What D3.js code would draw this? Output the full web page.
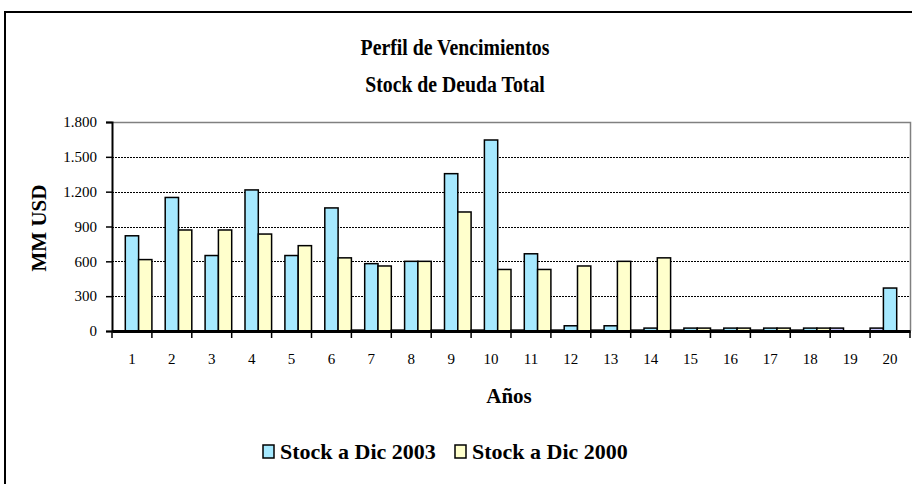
<!DOCTYPE html>
<meta charset="utf-8">
<style>

body {
  margin: 0;
  background: #fff;
}

text {
  font-family: "Liberation Serif", "Times New Roman", serif;
  fill: #000;
}

.grid line {
  stroke: #000;
  stroke-dasharray: 2,1;
}

.bars rect {
  stroke: #000;
  stroke-width: 1.5;
}

</style>
<svg width="912" height="484"></svg>
<script src="https://d3js.org/d3.v7.min.js"></script>
<script>

var years = d3.range(1, 21).map(String);

var stock2003 = [820, 1150, 650, 1215, 650, 1060, 580, 600, 1355, 1645, 665, 45, 45, 25, 25, 25, 25, 25, 0, 370];
var stock2000 = [615, 870, 870, 835, 735, 630, 560, 600, 1025, 530, 530, 560, 600, 630, 25, 25, 25, 25, 0, 0];
var otros = [0, 0, 0, 0, 0, 0, 8, 8, 8, 8, 8, 8, 8, 8, 8, 8, 8, 8, 25, 25];

var yTicks = [0, 300, 600, 900, 1200, 1500, 1800];

var series = [
  {name: "Otros", values: otros, color: "#CCCCFF", legend: false},
  {name: "Stock a Dic 2003", values: stock2003, color: "#A6E9FF", legend: true},
  {name: "Stock a Dic 2000", values: stock2000, color: "#FFFFCC", legend: true}
];

var svg = d3.select("svg");

var margin = {left: 112, right: 910, top: 122, bottom: 331};

// chart area frame (cut off at the right and bottom edges)
svg.append("rect")
    .attr("x", 5)
    .attr("y", 12)
    .attr("width", 940)
    .attr("height", 520)
    .attr("fill", "#fff")
    .attr("stroke", "#000")
    .attr("stroke-width", 2);

var x = d3.scaleBand()
    .domain(years)
    .range([margin.left, margin.right])
    .padding(0);

var xInner = d3.scaleBand()
    .domain(d3.range(series.length))
    .range([0, x.bandwidth()])
    .padding(0);

var y = d3.scaleLinear()
    .domain([0, 1800])
    .range([margin.bottom, margin.top]);

// gridlines
svg.append("g")
    .attr("class", "grid")
  .selectAll("line")
  .data(yTicks.filter(function(d) { return d > 0 && d < 1800; }))
  .enter().append("line")
    .attr("x1", margin.left)
    .attr("x2", margin.right)
    .attr("y1", function(d) { return Math.round(y(d)) + 0.5; })
    .attr("y2", function(d) { return Math.round(y(d)) + 0.5; });

// plot area border (top and right)
svg.append("path")
    .attr("d", "M" + margin.left + "," + (y(1800) + 0.5) + "H" + (margin.right + 0.5) + "V" + margin.bottom)
    .attr("fill", "none")
    .attr("stroke", "#808080")
    .attr("stroke-width", 1.5);

// bars
var group = svg.append("g")
    .attr("class", "bars")
  .selectAll("g")
  .data(years)
  .enter().append("g")
    .attr("transform", function(d) { return "translate(" + x(d) + ",0)"; });

group.selectAll("rect")
  .data(function(d, i) {
    return series.map(function(s, j) { return {key: j, value: s.values[i], color: s.color}; });
  })
  .enter().append("rect")
    .filter(function(d) { return d.value > 0; })
    .attr("x", function(d) { return xInner(d.key); })
    .attr("width", xInner.bandwidth())
    .attr("y", function(d) { return y(d.value); })
    .attr("height", function(d) { return y(0) - y(d.value); })
    .attr("fill", function(d) { return d.color; });

// y axis
var yAxis = svg.append("g")
    .attr("transform", "translate(" + margin.left + ",0)")
    .call(d3.axisLeft(y)
      .tickValues(yTicks)
      .tickSize(6)
      .tickPadding(9)
      .tickFormat(function(d) { return d3.format(",")(d).replace(/,/g, "."); }));

yAxis.select(".domain").attr("stroke", "#000").attr("stroke-width", 2);
yAxis.selectAll(".tick line").attr("stroke", "#000").attr("stroke-width", 1.5);
yAxis.selectAll(".tick text")
    .attr("font-family", "Liberation Serif")
    .attr("font-size", 15)
    .attr("fill", "#000");

// x axis
var xAxis = svg.append("g")
    .attr("transform", "translate(0," + margin.bottom + ")")
    .call(d3.axisBottom(x).tickSize(0).tickPadding(22));

xAxis.select(".domain").attr("stroke", "#000").attr("stroke-width", 3);
xAxis.selectAll(".tick text")
    .attr("font-family", "Liberation Serif")
    .attr("font-size", 15)
    .attr("fill", "#000");

// x tick marks between categories
xAxis.selectAll(".sep")
  .data(years.concat(["end"]))
  .enter().append("line")
    .attr("class", "sep")
    .attr("x1", function(d, i) { return i < years.length ? x(d) : margin.right; })
    .attr("x2", function(d, i) { return i < years.length ? x(d) : margin.right; })
    .attr("y1", 0)
    .attr("y2", 7)
    .attr("stroke", "#000")
    .attr("stroke-width", 1.5);

// titles (Times bold, slightly condensed as in the original)
svg.append("text")
    .attr("transform", "translate(455,55) scale(0.86,1)")
    .attr("text-anchor", "middle")
    .attr("font-weight", "bold")
    .attr("font-size", 23)
    .text("Perfil de Vencimientos");

svg.append("text")
    .attr("transform", "translate(455,92) scale(0.86,1)")
    .attr("text-anchor", "middle")
    .attr("font-weight", "bold")
    .attr("font-size", 23)
    .text("Stock de Deuda Total");

svg.append("text")
    .attr("transform", "translate(46,228) rotate(-90)")
    .attr("text-anchor", "middle")
    .attr("font-weight", "bold")
    .attr("font-size", 21)
    .text("MM USD");

svg.append("text")
    .attr("x", 509)
    .attr("y", 403)
    .attr("text-anchor", "middle")
    .attr("font-weight", "bold")
    .attr("font-size", 21)
    .text("Años");

// legend
var legendX = [263, 455];
var legend = svg.append("g")
  .selectAll("g")
  .data(series.filter(function(s) { return s.legend; }))
  .enter().append("g")
    .attr("transform", function(d, i) { return "translate(" + legendX[i] + ",445)"; });

legend.append("rect")
    .attr("width", 11)
    .attr("height", 13)
    .attr("fill", function(d) { return d.color; })
    .attr("stroke", "#000")
    .attr("stroke-width", 1.5);

legend.append("text")
    .attr("x", 17)
    .attr("y", 14)
    .attr("font-weight", "bold")
    .attr("font-size", 22)
    .text(function(d) { return d.name; });

</script>
